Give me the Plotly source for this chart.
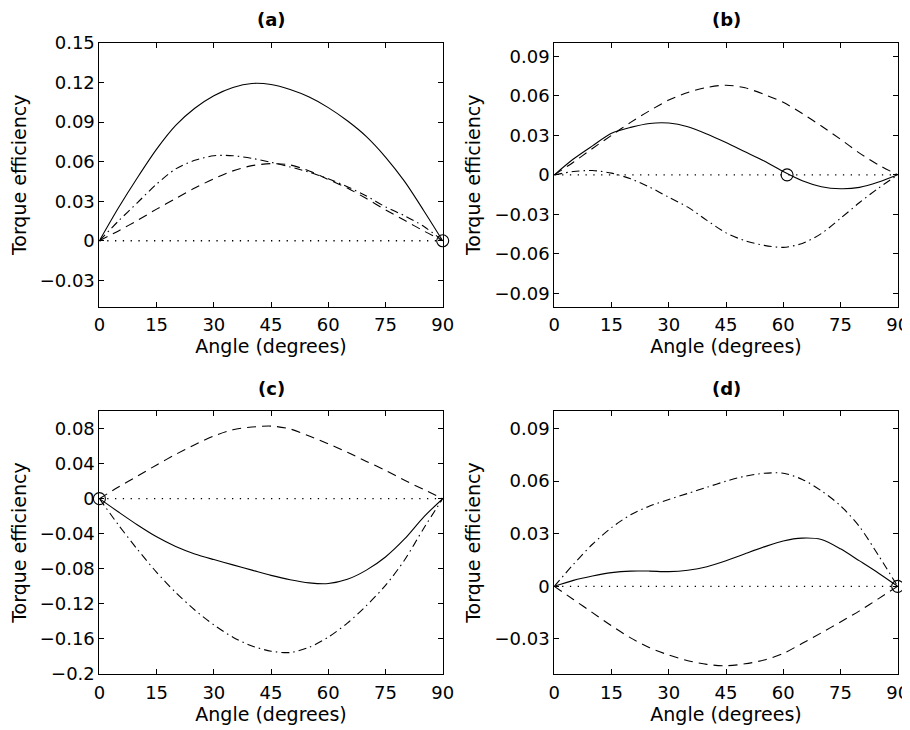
import plotly.graph_objects as go

ANGLES = [0, 5, 10, 15, 20, 25, 30, 35, 40, 45, 50, 55, 60, 65, 70, 75, 80, 85, 90]

# Panel (a)
A_SOLID = [0, 0.025, 0.048, 0.0695, 0.0875, 0.1005, 0.110, 0.1163, 0.1193, 0.1185, 0.1147, 0.109,
           0.101, 0.091, 0.079, 0.0635, 0.045, 0.023, 0]
A_DASH = [0, 0.0075, 0.0155, 0.024, 0.032, 0.040, 0.047, 0.053, 0.057, 0.0585, 0.0575, 0.053,
          0.0465, 0.040, 0.032, 0.0235, 0.0155, 0.0075, 0]
A_DASHDOT = [0, 0.015, 0.029, 0.043, 0.0545, 0.061, 0.0645, 0.0645, 0.0625, 0.0595, 0.056, 0.052,
             0.047, 0.041, 0.034, 0.0257, 0.019, 0.011, 0]

# Panel (b)
B_SOLID = [0, 0.012, 0.022, 0.0315, 0.036, 0.039, 0.0393, 0.0365, 0.031, 0.0245, 0.0175, 0.0105,
           0.0025, -0.0045, -0.009, -0.0105, -0.0095, -0.0055, 0]
B_DASH = [0, 0.0096, 0.020, 0.030, 0.0398, 0.0487, 0.0567, 0.0625, 0.0663, 0.068, 0.066, 0.061,
          0.055, 0.0465, 0.037, 0.027, 0.0165, 0.0075, 0]
B_DASHDOT = [0, 0.0025, 0.0033, 0.0013, -0.003, -0.0093, -0.017, -0.0245, -0.0345, -0.044, -0.050,
             -0.0535, -0.055, -0.052, -0.0445, -0.033, -0.021, -0.010, 0]

# Panel (c)
C_SOLID = [0, -0.0152, -0.030, -0.0435, -0.0545, -0.063, -0.0695, -0.0755, -0.0815, -0.0875, -0.0925,
           -0.096, -0.0968, -0.092, -0.0815, -0.0665, -0.046, -0.021, 0]
C_DASH = [0, 0.0133, 0.0258, 0.0385, 0.0505, 0.0615, 0.0714, 0.0786, 0.0817, 0.0828, 0.0795, 0.0715,
          0.0625, 0.053, 0.0425, 0.0323, 0.021, 0.0105, 0]
C_DASHDOT = [0, -0.030, -0.058, -0.084, -0.107, -0.127, -0.144, -0.158, -0.168, -0.174, -0.1755,
             -0.1695, -0.158, -0.142, -0.122, -0.099, -0.070, -0.034, 0]

# Panel (d)
D_SOLID = [0, 0.0034, 0.0059, 0.0078, 0.0087, 0.0087, 0.0084, 0.0092, 0.0112, 0.0146, 0.0186,
           0.0225, 0.0259, 0.0275, 0.0267, 0.0214, 0.0145, 0.0075, 0]
D_DASH = [0, -0.0075, -0.015, -0.0225, -0.0294, -0.035, -0.0392, -0.0424, -0.0445, -0.0453, -0.0442,
          -0.042, -0.0383, -0.0325, -0.0265, -0.0203, -0.014, -0.007, 0]
D_DASHDOT = [0, 0.0125, 0.024, 0.0335, 0.0408, 0.0458, 0.0495, 0.053, 0.0565, 0.0600, 0.0628,
             0.0645, 0.0645, 0.061, 0.0545, 0.046, 0.034, 0.0175, 0]

ZERO_X = [0, 90]
ZERO_Y = [0, 0]

# circle markers (angle, value)
CIRCLES = {"a": (90, 0), "b": (61, 0), "c": (0, 0), "d": (90, 0)}

PANEL_TITLES = ["(a)", "(b)", "(c)", "(d)"]
X_TICKS = [0, 15, 30, 45, 60, 75, 90]
X_TICK_LABELS = ["0", "15", "30", "45", "60", "75", "90"]

Y_TICKS_A = [-0.03, 0, 0.03, 0.06, 0.09, 0.12, 0.15]
Y_LABELS_A = ["\u22120.03", "0", "0.03", "0.06", "0.09", "0.12", "0.15"]
Y_TICKS_B = [-0.09, -0.06, -0.03, 0, 0.03, 0.06, 0.09]
Y_LABELS_B = ["\u22120.09", "\u22120.06", "\u22120.03", "0", "0.03", "0.06", "0.09"]
Y_TICKS_C = [-0.2, -0.16, -0.12, -0.08, -0.04, 0, 0.04, 0.08]
Y_LABELS_C = ["\u22120.2", "\u22120.16", "\u22120.12", "\u22120.08", "\u22120.04", "0", "0.04", "0.08"]
Y_TICKS_D = [-0.03, 0, 0.03, 0.06, 0.09]
Y_LABELS_D = ["\u22120.03", "0", "0.03", "0.06", "0.09"]

Y_RANGES = [[-0.05, 0.15], [-0.1, 0.1], [-0.2, 0.1], [-0.05, 0.1]]

X_LABEL = "Angle (degrees)"
Y_LABEL = "Torque efficiency"

FONT = "DejaVu Sans, Liberation Sans, Arial, sans-serif"
# the page body adds an 8px offset; the figure is sized so that it fills the window
OFF = 8
W, H = 910 - OFF, 730 - OFF

panels = [
    (A_SOLID, A_DASH, A_DASHDOT, CIRCLES["a"], Y_TICKS_A, Y_LABELS_A),
    (B_SOLID, B_DASH, B_DASHDOT, CIRCLES["b"], Y_TICKS_B, Y_LABELS_B),
    (C_SOLID, C_DASH, C_DASHDOT, CIRCLES["c"], Y_TICKS_C, Y_LABELS_C),
    (D_SOLID, D_DASH, D_DASHDOT, CIRCLES["d"], Y_TICKS_D, Y_LABELS_D),
]

# window-pixel boxes of the axes: (left, right, top, bottom)
boxes = [
    (99.4, 442.7, 43.0, 306.7),
    (554.3, 897.7, 43.0, 306.7),
    (99.4, 442.7, 411.0, 674.0),
    (554.3, 897.7, 411.0, 674.0),
]

fig = go.Figure()
LW = 1.1
for i, (solid, dash, dashdot, circ, yt, yl) in enumerate(panels):
    n = "" if i == 0 else str(i + 1)
    xa, ya = "x" + n, "y" + n
    fig.add_trace(go.Scatter(x=ZERO_X, y=ZERO_Y, mode="lines", xaxis=xa, yaxis=ya,
                             line=dict(color="black", width=1.3, dash="1.3px,6.5px"), showlegend=False))
    fig.add_trace(go.Scatter(x=ANGLES, y=dash, mode="lines", xaxis=xa, yaxis=ya,
                             line=dict(color="black", width=LW, dash="9px,6px", shape="spline", smoothing=0.8),
                             showlegend=False))
    fig.add_trace(go.Scatter(x=ANGLES, y=dashdot, mode="lines", xaxis=xa, yaxis=ya,
                             line=dict(color="black", width=LW, dash="8px,4px,1.5px,4px", shape="spline",
                                       smoothing=0.8),
                             showlegend=False))
    fig.add_trace(go.Scatter(x=ANGLES, y=solid, mode="lines", xaxis=xa, yaxis=ya,
                             line=dict(color="black", width=LW, shape="spline", smoothing=0.8),
                             showlegend=False))
    fig.add_trace(go.Scatter(x=[circ[0]], y=[circ[1]], mode="markers", xaxis=xa, yaxis=ya, cliponaxis=False,
                             marker=dict(symbol="circle-open", size=12, color="black", line=dict(width=1.1)),
                             showlegend=False))

    l, r, t, b = [v - OFF for v in boxes[i]]
    axis_common = dict(showline=True, linecolor="black", linewidth=1, mirror="ticks", ticks="inside",
                       ticklen=5, tickcolor="black", showgrid=False, zeroline=False, automargin=False,
                       tickfont=dict(family=FONT, size=18, color="black"))
    fig.layout["xaxis" + n] = dict(
        domain=[l / W, r / W], anchor=ya, range=[0, 90], tickvals=X_TICKS, ticktext=X_TICK_LABELS,
        title=dict(text=X_LABEL, font=dict(family=FONT, size=19, color="black"), standoff=5),
        ticklabelstandoff=2, **axis_common)
    fig.layout["yaxis" + n] = dict(
        domain=[1 - b / H, 1 - t / H], anchor=xa, range=Y_RANGES[i], tickvals=yt, ticktext=yl,
        title=dict(text=Y_LABEL, font=dict(family=FONT, size=19, color="black"), standoff=8),
        **axis_common)
    fig.add_annotation(text="<b>" + PANEL_TITLES[i] + "</b>", x=(l + r) / 2 / W, y=1 - (t - 23) / H,
                       xref="paper", yref="paper", showarrow=False, xanchor="center", yanchor="middle",
                       font=dict(family=FONT, size=18, color="black"))

fig.update_layout(template="none", width=W, height=H, margin=dict(l=0, r=0, t=0, b=0, autoexpand=False),
                  paper_bgcolor="white", plot_bgcolor="white", showlegend=False)
fig.write_html("out.html")
